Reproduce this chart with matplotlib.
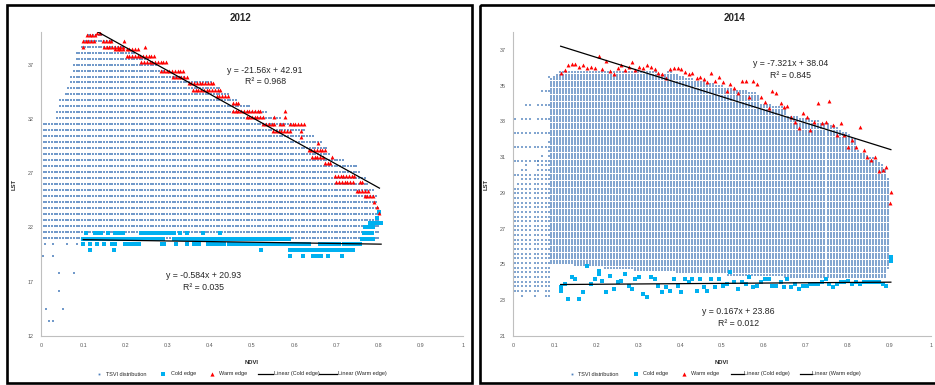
import numpy as np
import matplotlib
matplotlib.use("Agg")
import matplotlib.pyplot as plt
from matplotlib.patches import Rectangle

plt.rcParams['font.family'] = ['Liberation Sans', 'DejaVu Sans']

W, H, DPI = 935, 385, 100

# ======================= 2012 =======================
# TSVI distribution envelope (NDVI knots, highest and lowest LST level)
tsvi12_ndvi = [0.0, 0.034, 0.037, 0.041, 0.062, 0.066, 0.077, 0.085, 0.099, 0.108,
               0.142, 0.17, 0.2, 0.24, 0.27, 0.30, 0.34, 0.41, 0.43, 0.45,
               0.47, 0.53, 0.56, 0.59, 0.625, 0.65, 0.67, 0.69, 0.745, 0.765,
               0.79, 0.805]
tsvi12_top = [31.5, 31.5, 32.1, 33.5, 34.8, 35.3, 37.25, 38.4, 38.7, 39.8,
              39.8, 39.2, 38.6, 37.8, 37.25, 36.4, 35.9, 35.3, 34.7, 34.1,
              33.5, 32.7, 32.2, 31.55, 31.0, 30.3, 29.75, 28.5, 27.9, 26.75,
              25.4, 23.3]
tsvi12_bottom = [21.05] * len(tsvi12_ndvi)
# isolated low-LST pixels
tsvi12_out_ndvi = [0.009, 0.029, 0.061, 0.085, 0.004, 0.029, 0.043, 0.078, 0.043, 0.012, 0.053, 0.020, 0.029]
tsvi12_out_lst = [20.43, 20.43, 20.43, 20.43, 19.35, 19.35, 17.8, 17.8, 16.1, 14.5, 14.5, 13.4, 13.4]

# Warm edge (runs of NDVI columns sharing the same maximum LST)
warm12_from = [0.133, 0.109, 0.099, 0.147, 0.197, 0.099, 0.149, 0.246, 0.175, 0.203,
               0.203, 0.238, 0.285, 0.313, 0.350, 0.360, 0.416, 0.455, 0.455, 0.578,
               0.487, 0.552, 0.578, 0.527, 0.566, 0.590, 0.550, 0.617, 0.617, 0.657,
               0.634, 0.642, 0.690, 0.673, 0.697, 0.700, 0.755, 0.748, 0.767, 0.790,
               0.796, 0.802]
warm12_to = [0.142, 0.133, 0.128, 0.168, 0.197, 0.099, 0.199, 0.246, 0.199, 0.234,
             0.274, 0.300, 0.337, 0.346, 0.410, 0.430, 0.448, 0.470, 0.526, 0.578,
             0.526, 0.552, 0.578, 0.558, 0.573, 0.625, 0.590, 0.617, 0.617, 0.657,
             0.673, 0.673, 0.690, 0.692, 0.748, 0.740, 0.763, 0.779, 0.791, 0.796,
             0.800, 0.802]
warm12_lst = [39.9, 39.7, 39.15, 39.15, 39.15, 38.6, 38.6, 38.6, 38.4, 38.4,
              37.8, 37.25, 36.45, 35.9, 35.3, 34.7, 34.1, 33.5, 32.7, 32.7,
              32.2, 32.2, 32.2, 31.55, 31.55, 31.55, 30.9, 30.9, 30.3, 29.75,
              29.1, 28.5, 28.5, 27.9, 26.75, 26.2, 26.2, 25.4, 24.9, 24.3,
              23.85, 23.3]

# Cold edge (runs of NDVI columns sharing the same minimum LST)
cold12_from = [0.107, 0.128, 0.143, 0.158, 0.175, 0.238, 0.295, 0.330, 0.345, 0.385, 0.425, 0.765,
               0.100, 0.315, 0.760,
               0.100, 0.116, 0.133, 0.150, 0.168, 0.200, 0.286, 0.320, 0.345, 0.362, 0.395,
               0.445, 0.525, 0.590, 0.660, 0.680, 0.718,
               0.116, 0.172, 0.521, 0.590,
               0.590, 0.620, 0.645, 0.680, 0.713,
               0.768, 0.780, 0.797, 0.800]
cold12_to = [0.112, 0.135, 0.148, 0.162, 0.195, 0.285, 0.315, 0.335, 0.350, 0.388, 0.428, 0.790,
             0.290, 0.590, 0.790,
             0.104, 0.118, 0.136, 0.153, 0.178, 0.235, 0.298, 0.324, 0.349, 0.378, 0.440,
             0.520, 0.590, 0.640, 0.675, 0.712, 0.760,
             0.118, 0.175, 0.524, 0.744,
             0.593, 0.625, 0.665, 0.684, 0.716,
             0.790, 0.806, 0.797, 0.800]
cold12_lst = [21.5] * 12 + [20.95] * 3 + [20.45] * 17 + [19.9] * 4 + [19.35] * 5 + [22.0, 22.45, 22.9, 23.4]

fit12_warm = (-21.56, 42.91, 0.968)
fit12_cold = (-0.584, 20.93, 0.035)

# ======================= 2014 =======================
tsvi14_ndvi = [0.09, 0.112, 0.34, 0.347, 0.371, 0.419, 0.467, 0.53, 0.586, 0.594,
               0.65, 0.658, 0.722, 0.77, 0.817, 0.825, 0.873, 0.893, 0.9]
tsvi14_top = [35.4, 35.8, 35.8, 35.6, 35.8, 35.4, 35.2, 34.8, 34.6, 34.0,
              33.8, 33.4, 33.1, 32.8, 32.0, 31.4, 30.8, 30.3, 29.2]
tsvi14_bottom = [25.0, 25.0, 24.6, 24.6, 24.6, 24.5, 24.5, 24.4, 24.4, 24.4,
                 24.3, 24.3, 24.3, 24.3, 24.2, 24.2, 24.2, 24.2, 25.4]
# sparse columns at low NDVI
tsvi14_left_ndvi = [0.004, 0.012, 0.022, 0.032, 0.041, 0.052, 0.061, 0.069, 0.079, 0.086]
tsvi14_left_top = [33.6, 32.4, 33.3, 34.5, 34.2, 33.0, 34.6, 35.0, 35.2, 35.5]
tsvi14_left_dense = [29.2, 29.6, 30.4, 30.6, 29.8, 30.2, 30.8, 31.2, 31.0, 32.0]
tsvi14_left_bottom = [23.3, 23.3, 23.1, 23.5, 23.3, 23.1, 23.4, 23.6, 23.2, 23.1]

edge14_ndvi = [0.114, 0.124, 0.132, 0.141, 0.149, 0.159, 0.167, 0.177, 0.186, 0.195,
               0.205, 0.214, 0.222, 0.231, 0.241, 0.250, 0.258, 0.267, 0.277, 0.285,
               0.293, 0.302, 0.312, 0.321, 0.329, 0.339, 0.347, 0.357, 0.367, 0.376,
               0.385, 0.395, 0.403, 0.411, 0.420, 0.428, 0.439, 0.448, 0.457, 0.465,
               0.474, 0.483, 0.493, 0.503, 0.511, 0.520, 0.529, 0.538, 0.547, 0.557,
               0.565, 0.575, 0.583, 0.593, 0.602, 0.612, 0.620, 0.630, 0.640, 0.648,
               0.656, 0.666, 0.675, 0.685, 0.694, 0.703, 0.711, 0.721, 0.730, 0.739,
               0.748, 0.757, 0.766, 0.775, 0.784, 0.793, 0.802, 0.812, 0.821, 0.829,
               0.840, 0.848, 0.857, 0.866, 0.875, 0.884, 0.893, 0.904]
warm14_lst = [35.73, 35.88, 36.16, 36.22, 36.20, 36.07, 36.16, 35.97, 36.07, 35.97,
              36.63, 35.94, 36.38, 35.82, 35.66, 35.97, 36.16, 35.88, 36.07, 36.31,
              35.88, 36.07, 35.97, 36.14, 36.07, 35.94, 35.69, 35.66, 35.41, 35.94,
              35.97, 35.97, 35.94, 35.79, 35.66, 35.69, 35.41, 35.51, 35.38, 35.23,
              35.69, 35.26, 35.51, 35.23, 34.72, 35.10, 34.85, 34.57, 35.26, 35.26,
              34.39, 35.26, 35.10, 34.39, 34.11, 33.73, 34.72, 34.57, 34.01, 33.83,
              33.86, 33.23, 32.99, 32.61, 33.45, 33.27, 32.52, 32.99, 34.01, 32.93,
              32.99, 34.16, 32.80, 32.24, 32.89, 32.24, 31.58, 31.96, 31.58, 32.70,
              31.40, 31.02, 30.87, 31.02, 30.22, 30.28, 30.46, 29.06]
cold14_lst = [23.54, 23.92, 23.07, 24.29, 24.20, 23.07, 23.45, 24.89, 23.92, 24.20,
              24.48, 24.10, 23.45, 24.38, 23.64, 24.01, 24.10, 24.48, 23.82, 23.64,
              24.20, 24.29, 23.36, 23.17, 24.29, 24.20, 23.82, 23.45, 23.73, 23.54,
              24.20, 23.82, 23.45, 24.20, 24.01, 24.20, 23.54, 24.20, 23.73, 23.54,
              24.20, 23.73, 24.20, 23.82, 23.92, 24.57, 24.01, 23.64, 24.01, 23.92,
              24.29, 23.73, 23.82, 24.01, 24.20, 24.20, 23.82, 23.82, 24.01, 23.73,
              24.20, 23.73, 23.92, 23.64, 23.82, 23.82, 23.92, 23.92, 23.92, 24.01,
              24.20, 23.92, 23.73, 23.92, 24.01, 24.01, 24.10, 23.92, 24.01, 23.92,
              24.01, 24.01, 24.01, 24.01, 24.01, 23.92, 23.82, 25.22]
warm14_extra_ndvi = [0.903]
warm14_extra_lst = [28.41]
cold14_extra_ndvi = [0.114, 0.205, 0.904]
cold14_extra_lst = [23.73, 24.66, 25.40]

fit14_warm = (-7.321, 38.04, 0.845)
fit14_cold = (0.167, 23.86, 0.012)

# ======================= styling =======================
C_TSVI = '#4F81BD'
C_COLD = '#00B0F0'
C_WARM = '#FF0000'
TXT = '#262626'
TICK = '#595959'


def grid_fill(knx, top, bot, x0, x1, dx, base, dy):
    xs = np.arange(x0, x1 + 1e-9, dx)
    levels = np.arange(base, 41, dy)
    px, py = [], []
    for x in xs:
        t = np.interp(x, knx, top)
        b = np.interp(x, knx, bot)
        sel = levels[(levels >= b - 1e-6) & (levels <= t + 1e-6)]
        px.extend([x] * len(sel))
        py.extend(sel)
    return np.array(px), np.array(py)


def expand_runs(x0s, x1s, ys, dx):
    px, py = [], []
    for a, b, y in zip(x0s, x1s, ys):
        xs = np.arange(a, b + 1e-9, dx) if b > a else np.array([a])
        px.extend(xs)
        py.extend([y] * len(xs))
    return np.array(px), np.array(py)


fig = plt.figure(figsize=(W / DPI, H / DPI), dpi=DPI)


def px_axes(l, t, r, b):
    return fig.add_axes([l / W, 1 - b / H, (r - l) / W, (b - t) / H])


ax1 = px_axes(41, 32, 463, 336)
ax2 = px_axes(513, 32, 931, 336)


def style_axes(ax, ylim, yticks):
    ax.set_xlim(0, 1)
    ax.set_ylim(*ylim)
    ax.set_xticks(np.arange(0, 1.01, 0.1))
    ax.set_xticklabels(['0', '0.1', '0.2', '0.3', '0.4', '0.5', '0.6', '0.7', '0.8', '0.9', '1'])
    ax.set_yticks(yticks)
    for s in ['top', 'right']:
        ax.spines[s].set_visible(False)
    for s in ['left', 'bottom']:
        ax.spines[s].set_color('#BFBFBF')
        ax.spines[s].set_linewidth(0.8)
    ax.tick_params(length=0, labelsize=3.9, labelcolor=TICK)
    ax.tick_params(axis='y', pad=5.5)
    ax.tick_params(axis='x', pad=5)
    ax.set_xlabel('NDVI', fontsize=4.2, fontweight='bold', color=TXT, labelpad=9)
    ax.set_ylabel('LST', fontsize=4.2, fontweight='bold', color=TXT, labelpad=8)
    ax.set_facecolor('white')


# ---------- 2012 panel ----------
style_axes(ax1, (12, 40), [12, 17, 22, 27, 32, 37])
tx, ty = grid_fill(tsvi12_ndvi, tsvi12_top, tsvi12_bottom, 0.0, 0.805, 0.0065, 19.4, 0.55)
ax1.scatter(tx, ty, s=1.1, marker='s', color=C_TSVI, linewidths=0, alpha=0.8, zorder=2)
ax1.scatter(tsvi12_out_ndvi, tsvi12_out_lst, s=1.1, marker='s', color=C_TSVI, linewidths=0, alpha=0.8, zorder=2)
cx, cy = expand_runs(cold12_from, cold12_to, cold12_lst, 0.0065)
ax1.scatter(cx, cy, s=5.5, marker='s', color=C_COLD, linewidths=0, zorder=3)
wx, wy = expand_runs(warm12_from, warm12_to, warm12_lst, 0.0065)
ax1.scatter(wx, wy, s=8, marker='^', color=C_WARM, linewidths=0, zorder=4)
for (m, c, _), xs in ((fit12_warm, wx), (fit12_cold, cx)):
    xx = np.array([min(xs), max(xs)])
    ax1.plot(xx, m * xx + c, color='black', lw=0.9, zorder=5)
ax1.text(0.531, 36.44, 'y = -21.56x + 42.91', ha='center', va='center', fontsize=6.3, color=TXT)
ax1.text(0.531, 35.43, 'R² = 0.968', ha='center', va='center', fontsize=6.3, color=TXT)
ax1.text(0.386, 17.58, 'y = -0.584x + 20.93', ha='center', va='center', fontsize=6.3, color=TXT)
ax1.text(0.386, 16.47, 'R² = 0.035', ha='center', va='center', fontsize=6.3, color=TXT)

# ---------- 2014 panel ----------
style_axes(ax2, (21, 38), list(range(21, 38, 2)))
tx, ty = grid_fill(tsvi14_ndvi, tsvi14_top, tsvi14_bottom, 0.09, 0.9, 0.0072, 23.0, 0.13)
ax2.scatter(tx, ty, s=0.9, marker='s', color=C_TSVI, linewidths=0, alpha=0.7, zorder=2)
lx, ly = [], []
for x, t, d, b in zip(tsvi14_left_ndvi, tsvi14_left_top, tsvi14_left_dense, tsvi14_left_bottom):
    lev_d = np.arange(23.0, d + 1e-6, 0.26)
    lev_d = lev_d[lev_d >= b]
    lev_s = np.arange(23.0, t + 1e-6, 0.78)
    lev_s = lev_s[lev_s > d]
    for v in np.concatenate([lev_d, lev_s]):
        lx.append(x)
        ly.append(v)
ax2.scatter(lx, ly, s=0.9, marker='s', color=C_TSVI, linewidths=0, alpha=0.7, zorder=2)
ax2.scatter(edge14_ndvi + cold14_extra_ndvi, cold14_lst + cold14_extra_lst,
            s=8, marker='s', color=C_COLD, linewidths=0, zorder=3)
ax2.scatter(edge14_ndvi + warm14_extra_ndvi, warm14_lst + warm14_extra_lst,
            s=8, marker='^', color=C_WARM, linewidths=0, zorder=4)
for (m, c, _) in (fit14_warm, fit14_cold):
    xx = np.array([min(edge14_ndvi), max(edge14_ndvi)])
    ax2.plot(xx, m * xx + c, color='black', lw=0.9, zorder=5)
ax2.text(0.663, 36.25, 'y = -7.321x + 38.04', ha='center', va='center', fontsize=6.3, color=TXT)
ax2.text(0.663, 35.56, 'R² = 0.845', ha='center', va='center', fontsize=6.3, color=TXT)
ax2.text(0.540, 22.39, 'y = 0.167x + 23.86', ha='center', va='center', fontsize=6.3, color=TXT)
ax2.text(0.540, 21.72, 'R² = 0.012', ha='center', va='center', fontsize=6.3, color=TXT)

# titles
fig.text(240 / W, 1 - 18 / H, '2012', ha='center', va='center', fontsize=7, fontweight='bold', color=TXT)
fig.text(735 / W, 1 - 18 / H, '2014', ha='center', va='center', fontsize=7, fontweight='bold', color=TXT)

# overlay in pixel coordinates for frames and legends
ov = fig.add_axes([0, 0, 1, 1], zorder=10)
ov.set_xlim(0, W)
ov.set_ylim(H, 0)
ov.axis('off')
ov.patch.set_alpha(0)
ov.add_patch(Rectangle((7, 5), 464.5, 378, fill=False, ec='black', lw=1.9))
ov.add_patch(Rectangle((479.5, 5), 470, 378, fill=False, ec='black', lw=1.9))

legend_labels = ['TSVI distribution', 'Cold edge', 'Warm edge', 'Linear (Cold edge)', 'Linear (Warm edge)']


def draw_legend(y, mk, tx_):
    ov.plot([mk[0]], [y], marker='s', ms=1.3, color=C_TSVI, mew=0, ls='none')
    ov.plot([mk[1]], [y], marker='s', ms=2.8, color=C_COLD, mew=0, ls='none')
    ov.plot([mk[2]], [y], marker='^', ms=3.0, color=C_WARM, mew=0, ls='none')
    ov.plot(mk[3], [y, y], color='black', lw=0.9)
    ov.plot(mk[4], [y, y], color='black', lw=0.9)
    for t, x in zip(legend_labels, tx_):
        ov.text(x, y, t, ha='left', va='center', fontsize=4.0, color=TXT)


draw_legend(374, [99, 163, 212, (258, 273), (319, 337)], [106, 171, 219, 273.5, 337.5])
draw_legend(374, [572, 636, 684, (731, 744), (800, 811.5)], [578, 643, 691, 744.5, 812])

fig.savefig('out.png', dpi=DPI)
